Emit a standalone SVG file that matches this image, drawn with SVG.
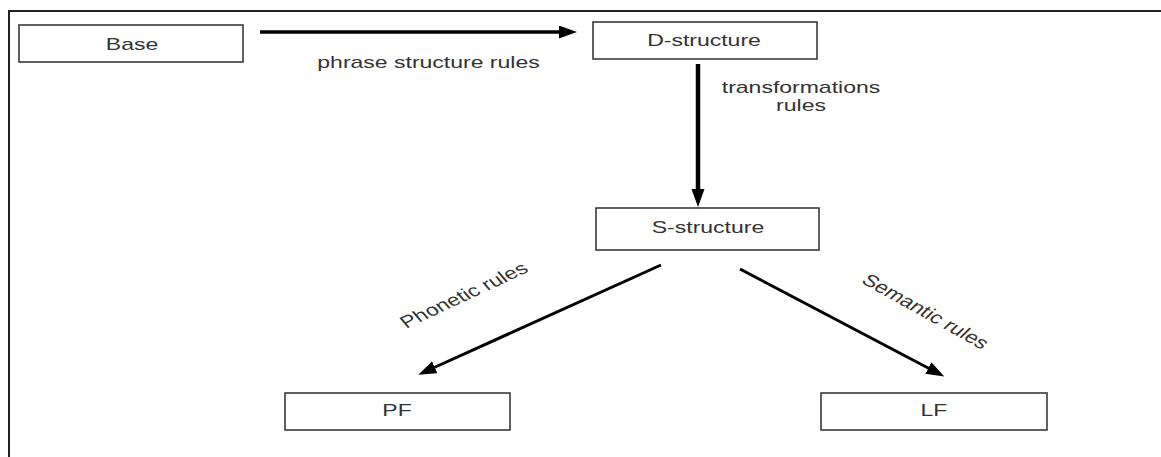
<svg xmlns="http://www.w3.org/2000/svg" width="1161" height="457" viewBox="0 0 1161 457">
  <defs>
    <style>
      .box { fill: #ffffff; stroke: #3a3a3a; stroke-width: 1.6; }
      .lbl { font-family: "Liberation Sans", Arial, sans-serif; font-size: 17px; fill: #333333; }
      .conn { stroke: #000000; fill: none; stroke-linecap: butt; }
      .frame { stroke: #222222; stroke-width: 2; fill: none; }
    </style>
    <marker id="head" markerUnits="userSpaceOnUse" markerWidth="18" markerHeight="14" refX="3" refY="6.5" orient="auto" viewBox="0 0 18 14">
      <path d="M0,0 L18,6.5 L0,13 z" fill="#000000"/>
    </marker>
  </defs>
  <rect x="0" y="0" width="1161" height="457" fill="#ffffff"/>
  <path class="frame" d="M9,457 V11 H1161"/>

  <g id="connectors">
    <line class="conn" x1="260" y1="32" x2="562" y2="32" stroke-width="3.5" marker-end="url(#head)"/>
    <line class="conn" x1="698" y1="64" x2="698" y2="192" stroke-width="4.5" marker-end="url(#head)"/>
    <line class="conn" x1="661" y1="265" x2="432" y2="368.5" stroke-width="3" marker-end="url(#head)"/>
    <line class="conn" x1="740" y1="269" x2="931" y2="369.5" stroke-width="3" marker-end="url(#head)"/>
    <text class="lbl" text-anchor="middle" transform="translate(428.5,68) scale(1.353,1)">phrase structure rules</text>
    <text class="lbl" text-anchor="middle" transform="translate(801,93) scale(1.353,1)">transformations</text>
    <text class="lbl" text-anchor="middle" transform="translate(801,111) scale(1.353,1)">rules</text>
    <text class="lbl" text-anchor="middle" transform="translate(468,300) scale(1.353,1) rotate(-32.2)">Phonetic rules</text>
    <text class="lbl" text-anchor="middle" transform="translate(921,316) scale(1.353,1) rotate(36.9)">Semantic rules</text>
  </g>

  <g id="base">
    <rect class="box" x="19" y="25" width="224" height="37"/>
    <text class="lbl" text-anchor="middle" transform="translate(132,50) scale(1.353,1)">Base</text>
  </g>
  <g id="d-structure">
    <rect class="box" x="593" y="22" width="224" height="37"/>
    <text class="lbl" text-anchor="middle" transform="translate(704,46) scale(1.353,1)">D-structure</text>
  </g>
  <g id="s-structure">
    <rect class="box" x="596" y="208" width="223" height="42"/>
    <text class="lbl" text-anchor="middle" transform="translate(708,233) scale(1.353,1)">S-structure</text>
  </g>
  <g id="pf">
    <rect class="box" x="285" y="393" width="225" height="37"/>
    <text class="lbl" text-anchor="middle" transform="translate(397,416) scale(1.353,1)">PF</text>
  </g>
  <g id="lf">
    <rect class="box" x="821" y="393" width="226" height="37"/>
    <text class="lbl" text-anchor="middle" transform="translate(934,416) scale(1.353,1)">LF</text>
  </g>
</svg>
